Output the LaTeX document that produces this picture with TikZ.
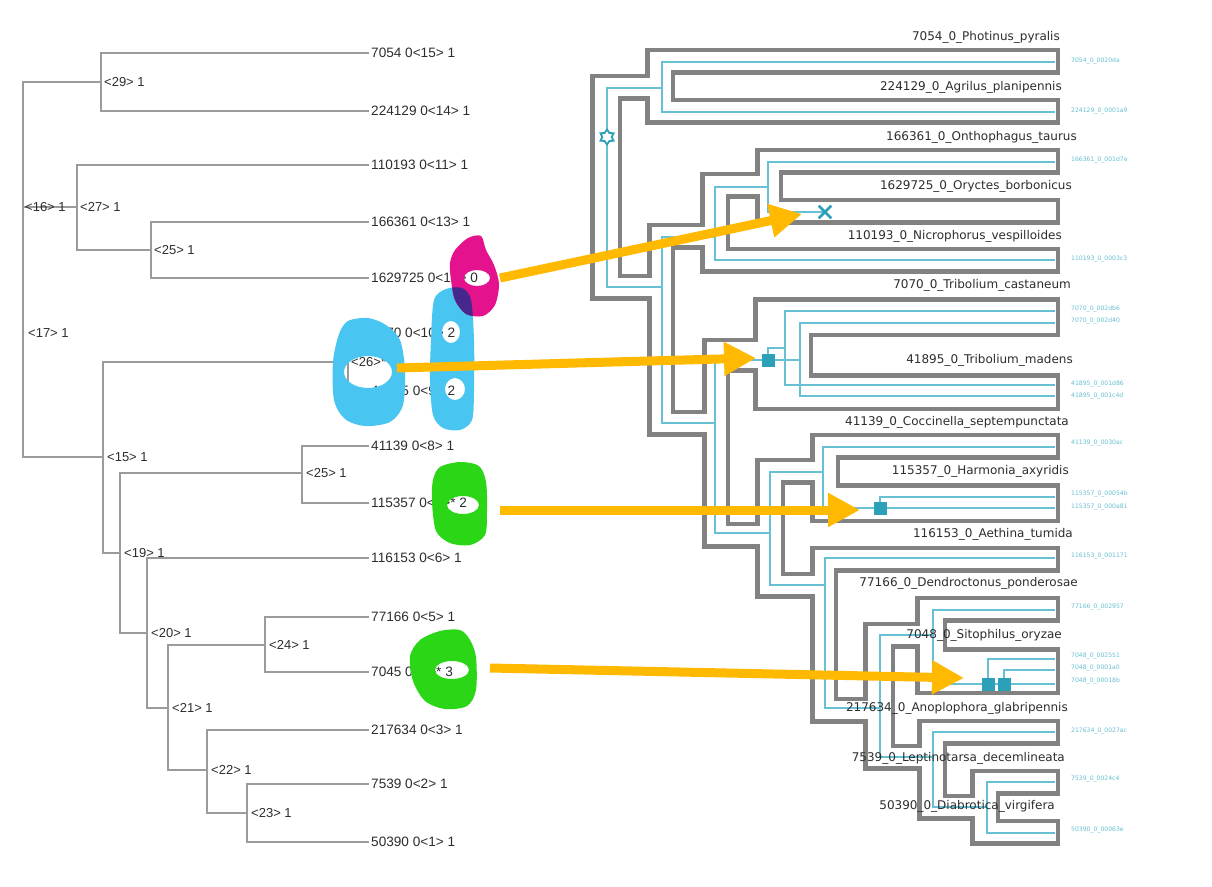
\documentclass[tikz,border=0pt]{standalone}
\usepackage{fontspec}
\setmainfont{Liberation Sans}
\newfontfamily\verafont{DejaVu Sans}
\usetikzlibrary{arrows.meta,shapes.geometric,shapes.misc}
\definecolor{treegray}{RGB}{155,155,155}
\definecolor{labcol}{RGB}{45,45,45}
\definecolor{tubegray}{RGB}{130,130,130}
\definecolor{genecol}{RGB}{104,192,212}
\definecolor{evcol}{RGB}{43,160,184}
\definecolor{arrcol}{RGB}{255,185,0}
\definecolor{pinkblob}{RGB}{228,18,140}
\definecolor{blueblob}{RGB}{72,197,240}
\definecolor{greenblob}{RGB}{42,214,22}
\definecolor{mixblob}{RGB}{70,40,140}

\begin{document}
\begin{tikzpicture}[x=1pt,y=-1pt,
  gtree/.style={treegray,line width=1.6pt},
  leaf/.style={anchor=west,inner sep=0pt,inner xsep=2pt,text=labcol,font=\fontsize{13.6}{14}\selectfont},
  inode/.style={anchor=west,inner sep=0pt,text=labcol,font=\fontsize{13}{13}\selectfont},
  gene/.style={genecol,line width=1.3pt},
  spname/.style={anchor=east,inner sep=0pt,text=labcol,font=\verafont\fontsize{12}{12}\selectfont},
  gname/.style={anchor=west,inner sep=0pt,text=genecol,font=\verafont\fontsize{6.1}{6}\selectfont},
  dupbox/.style={fill=evcol,minimum size=13pt,inner sep=0pt},
  lossmark/.style={cross out,draw=evcol,line width=2.6pt,minimum size=10pt,inner sep=0pt},
  rootmark/.style={star,star points=6,star point ratio=1.6,draw=evcol,fill=white,line width=1.8pt,minimum size=15pt,inner sep=0pt},
  hint/.style={arrcol,line width=9pt,-{Triangle[length=32pt,width=32pt]}}]
\useasboundingbox (0,0) rectangle (1212,886);
\fill[white] (0,0) rectangle (1212,886);

% left tree
\coordinate (n17) at (23,333);
\coordinate (n16) at (23,207);
\coordinate (n29) at (101,82);
\coordinate (n27) at (77,207);
\coordinate (n25a) at (151,250);
\coordinate (n15) at (103,457);
\coordinate (n26) at (348,362);
\coordinate (n19) at (120,553);
\coordinate (n25b) at (302,473);
\coordinate (n20) at (147,633);
\coordinate (n21) at (168,708);
\coordinate (n24) at (265,645);
\coordinate (n22) at (207,770);
\coordinate (n23) at (247,813);

\node[leaf] (l15) at (369,53) {7054 0<15> 1};
\node[leaf] (l14) at (369,111) {224129 0<14> 1};
\node[leaf] (l11) at (369,165) {110193 0<11> 1};
\node[leaf] (l13) at (369,222) {166361 0<13> 1};
\node[leaf] (l12) at (369,278) {1629725 0<12> 0};
\node[leaf] (l10) at (369,333) {7070 0<10> 2};
\node[leaf] (l9) at (369,391) {41595 0<9> 2};
\node[leaf] (l8) at (369,446) {41139 0<8> 1};
\node[leaf] (l7) at (369,503) {115357 0<7>* 2};
\node[leaf] (l6) at (369,558) {116153 0<6> 1};
\node[leaf] (l5) at (369,617) {77166 0<5> 1};
\node[leaf] (l4) at (369,672) {7045 0<4>* 3};
\node[leaf] (l3) at (369,730) {217634 0<3> 1};
\node[leaf] (l2) at (369,784) {7539 0<2> 1};
\node[leaf] (l1) at (369,842) {50390 0<1> 1};

\draw[gtree] (n17) -- (n16);
\draw[gtree] (n17) |- (n15);
\draw[gtree] (n16) |- (n29);
\draw[gtree] (n16) -- (n27);
\draw[gtree] (n29) |- (l15.west);
\draw[gtree] (n29) |- (l14.west);
\draw[gtree] (n27) |- (l11.west);
\draw[gtree] (n27) |- (n25a);
\draw[gtree] (n25a) |- (l13.west);
\draw[gtree] (n25a) |- (l12.west);
\draw[gtree] (n15) |- (n26);
\draw[gtree] (n15) |- (n19);
\draw[gtree] (n26) |- (l10.west);
\draw[gtree] (n26) |- (l9.west);
\draw[gtree] (n19) |- (n25b);
\draw[gtree] (n19) |- (n20);
\draw[gtree] (n25b) |- (l8.west);
\draw[gtree] (n25b) |- (l7.west);
\draw[gtree] (n20) |- (l6.west);
\draw[gtree] (n20) |- (n21);
\draw[gtree] (n21) |- (n24);
\draw[gtree] (n21) |- (n22);
\draw[gtree] (n24) |- (l5.west);
\draw[gtree] (n24) |- (l4.west);
\draw[gtree] (n22) |- (l3.west);
\draw[gtree] (n22) |- (n23);
\draw[gtree] (n23) |- (l2.west);
\draw[gtree] (n23) |- (l1.west);

\node[inode] (t29) at (104,82) {<29> 1};
\node[inode] (t16) at (25,207) {<16> 1};
\node[inode] (t27) at (80,207) {<27> 1};
\node[inode] (t25a) at (154,250) {<25> 1};
\node[inode] (t17) at (28,333) {<17> 1};
\node[inode] (t26) at (351,362) {<26>* 2};
\node[inode] (t15) at (107,457) {<15> 1};
\node[inode] (t25b) at (306,473) {<25> 1};
\node[inode] (t19) at (124,553) {<19> 1};
\node[inode] (t20) at (151,633) {<20> 1};
\node[inode] (t24) at (269,645) {<24> 1};
\node[inode] (t21) at (172,708) {<21> 1};
\node[inode] (t22) at (211,770) {<22> 1};
\node[inode] (t23) at (251,813) {<23> 1};

% species tree tubes: gray, then white inside
\foreach \x/\a/\b/\w in {606/73.5/300.5/32, 660/47.5/124.5/30, 661/222.5/436.5/28,
  715/171.5/273.5/30, 769/147.5/224.5/28, 716/337.5/548.5/28, 783/297/411/60,
  825/432.5/523/30, 770/457.5/598.5/30, 824/545.5/723.5/28, 879/621.5/770.5/32,
  931/595.5/695/32, 932/718.5/820.5/30, 985/768.5/845.5/30}
  \draw[tubegray,line width=\w pt] (\x,\a) -- (\x,\b);
\foreach \a/\y/\b/\w in {606/87/660/27, 660/61/1060/27, 660/111/1060/27, 606/287/661/27,
  661/236/715/27, 715/185/769/27, 769/161/1060/27, 769/211/1060/27, 715/260/1060/27,
  661/423/716/27, 716/355/783/35, 783/317/1060/40, 783/392/1060/38, 716/535/770/27,
  770/471/825/27, 825/446/1060/27, 825/503/1060/40, 770/585/824/27, 824/559/1060/27,
  824/710/879/27, 879/635/931/27, 931/609/1060/27, 931/671/1060/48, 879/757/932/27,
  932/732/1060/27, 932/807/985/27, 985/782/1060/27, 985/832/1060/27}
  \draw[tubegray,line width=\w pt] (\a,\y) -- (\b,\y);
\foreach \x/\a/\b/\w in {606/73.5/300.5/32, 660/47.5/124.5/30, 661/222.5/436.5/28,
  715/171.5/273.5/30, 769/147.5/224.5/28, 716/337.5/548.5/28, 783/297/411/60,
  825/432.5/523/30, 770/457.5/598.5/30, 824/545.5/723.5/28, 879/621.5/770.5/32,
  931/595.5/695/32, 932/718.5/820.5/30, 985/768.5/845.5/30}
  \draw[white,line width={(\w-9)*1pt},shorten <=4.5pt,shorten >=4.5pt] (\x,\a) -- (\x,\b);
\foreach \a/\y/\b/\w in {606/87/660/27, 660/61/1060/27, 660/111/1060/27, 606/287/661/27,
  661/236/715/27, 715/185/769/27, 769/161/1060/27, 769/211/1060/27, 715/260/1060/27,
  661/423/716/27, 716/355/783/35, 783/317/1060/40, 783/392/1060/38, 716/535/770/27,
  770/471/825/27, 825/446/1060/27, 825/503/1060/40, 770/585/824/27, 824/559/1060/27,
  824/710/879/27, 879/635/931/27, 931/609/1060/27, 931/671/1060/48, 879/757/932/27,
  932/732/1060/27, 932/807/985/27, 985/782/1060/27, 985/832/1060/27}
  \draw[white,line width={(\w-9)*1pt},shorten <=4.5pt,shorten >=4.5pt] (\a,\y) -- (\b,\y);

% gene tree
\coordinate (g0) at (607,137);
\coordinate (gA) at (662,88);
\coordinate (gB) at (662,287);
\coordinate (gC) at (715,237);
\coordinate (gD) at (768,187);
\coordinate (lossOr) at (825,212);
\coordinate (gE) at (715,423);
\coordinate (d1) at (768,360);
\coordinate (ga) at (785,348);
\coordinate (gb) at (800,360);
\coordinate (gH) at (770,533);
\coordinate (gG) at (823,472);
\coordinate (d2) at (880,508);
\coordinate (gJ) at (825,585);
\coordinate (gL) at (880,708);
\coordinate (gN) at (933,635);
\coordinate (d3) at (988,684);
\coordinate (d4) at (1004,684);
\coordinate (gM) at (933,757);
\coordinate (gO) at (987,807);
\foreach \n/\y in {eP/62, eAg/112, eOn/162, eNi/260, eTcA/311, eTcB/323, eTmA/385, eTmB/396,
  eCo/447, eHaA/497, eHaB/508, eAe/558, eDe/610, eSiA/659, eSiB/670, eSiC/684,
  eAn/732, eLe/782, eDi/833}
  \coordinate (\n) at (1055,\y);

\draw[gene] (g0) |- (gA);
\draw[gene] (g0) |- (gB);
\draw[gene] (gA) |- (eP);
\draw[gene] (gA) |- (eAg);
\draw[gene] (gB) |- (gC);
\draw[gene] (gB) |- (gE);
\draw[gene] (gC) |- (gD);
\draw[gene] (gC) |- (eNi);
\draw[gene] (gD) |- (eOn);
\draw[gene] (gD) |- (lossOr);
\draw[gene] (gE) |- (d1);
\draw[gene] (gE) |- (gH);
\draw[gene] (d1) |- (ga);
\draw[gene] (d1) -- (gb);
\draw[gene] (ga) |- (eTcA);
\draw[gene] (ga) |- (eTmA);
\draw[gene] (gb) |- (eTcB);
\draw[gene] (gb) |- (eTmB);
\draw[gene] (gH) |- (gG);
\draw[gene] (gH) |- (gJ);
\draw[gene] (gG) |- (eCo);
\draw[gene] (gG) |- (d2);
\draw[gene] (d2) |- (eHaA);
\draw[gene] (d2) -- (eHaB);
\draw[gene] (gJ) |- (eAe);
\draw[gene] (gJ) |- (gL);
\draw[gene] (gL) |- (gN);
\draw[gene] (gL) |- (gM);
\draw[gene] (gN) |- (eDe);
\draw[gene] (gN) |- (d3);
\draw[gene] (d3) -- (d4);
\draw[gene] (d4) -- (eSiC);
\draw[gene] (d3) |- (eSiA);
\draw[gene] (d4) |- (eSiB);
\draw[gene] (gM) |- (eAn);
\draw[gene] (gM) |- (gO);
\draw[gene] (gO) |- (eLe);
\draw[gene] (gO) |- (eDi);

\node[rootmark] (rootev) at (g0) {};
\node[lossmark] (xOr) at (lossOr) {};
\node[dupbox] (dupTc) at (d1) {};
\node[dupbox] (dupHa) at (d2) {};
\node[dupbox] (dupSiA) at (d3) {};
\node[dupbox] (dupSiB) at (d4) {};

% species and gene names
\node[spname] (sP) at (1060,37) {7054\_0\_Photinus\_pyralis};
\node[spname] (sAg) at (1062,87) {224129\_0\_Agrilus\_planipennis};
\node[spname] (sOn) at (1077,137) {166361\_0\_Onthophagus\_taurus};
\node[spname] (sOr) at (1072,186) {1629725\_0\_Oryctes\_borbonicus};
\node[spname] (sNi) at (1062,236) {110193\_0\_Nicrophorus\_vespilloides};
\node[spname] (sTc) at (1071,285) {7070\_0\_Tribolium\_castaneum};
\node[spname] (sTm) at (1073,360) {41895\_0\_Tribolium\_madens};
\node[spname] (sCo) at (1069,422) {41139\_0\_Coccinella\_septempunctata};
\node[spname] (sHa) at (1069,471) {115357\_0\_Harmonia\_axyridis};
\node[spname] (sAe) at (1073,534) {116153\_0\_Aethina\_tumida};
\node[spname] (sDe) at (1078,583) {77166\_0\_Dendroctonus\_ponderosae};
\node[spname] (sSi) at (1062,635) {7048\_0\_Sitophilus\_oryzae};
\node[spname] (sAn) at (1068,708) {217634\_0\_Anoplophora\_glabripennis};
\node[spname] (sLe) at (1065,758) {7539\_0\_Leptinotarsa\_decemlineata};
\node[spname] (sDi) at (1055,806) {50390\_0\_Diabrotica\_virgifera};

\node[gname] (nP) at (1071,61) {7054\_0\_0020da};
\node[gname] (nAg) at (1071,111) {224129\_0\_0001a9};
\node[gname] (nOn) at (1071,160) {166361\_0\_001d7e};
\node[gname] (nNi) at (1071,259) {110193\_0\_0003c3};
\node[gname] (nTcA) at (1071,309) {7070\_0\_002db6};
\node[gname] (nTcB) at (1071,321) {7070\_0\_002d40};
\node[gname] (nTmA) at (1071,384) {41895\_0\_001d86};
\node[gname] (nTmB) at (1071,396) {41895\_0\_001c4d};
\node[gname] (nCo) at (1071,443) {41139\_0\_0030ac};
\node[gname] (nHaA) at (1071,494) {115357\_0\_00054b};
\node[gname] (nHaB) at (1071,507) {115357\_0\_000a81};
\node[gname] (nAe) at (1071,556) {116153\_0\_001171};
\node[gname] (nDe) at (1071,607) {77166\_0\_002957};
\node[gname] (nSiA) at (1071,656) {7048\_0\_002551};
\node[gname] (nSiB) at (1071,668) {7048\_0\_0001a0};
\node[gname] (nSiC) at (1071,681) {7048\_0\_00018b};
\node[gname] (nAn) at (1071,731) {217634\_0\_0027ac};
\node[gname] (nLe) at (1071,779) {7539\_0\_0024c4};
\node[gname] (nDi) at (1071,830) {50390\_0\_00063e};

% hand-drawn marks
\fill[blueblob,even odd rule] plot[smooth cycle] coordinates {(348,321) (368,318) (386,325) (400,340) (405,370) (403,405) (390,422) (365,426) (345,419) (334,400) (333,362) (339,334)}
  (368,372) ellipse [x radius=24pt,y radius=16pt];
\fill[blueblob,even odd rule] plot[smooth cycle] coordinates {(434,300) (446,289) (462,288) (471,300) (474,340) (474,390) (472,420) (460,430) (443,428) (433,415) (430,380) (431,340)}
  (451,332) ellipse [x radius=9pt,y radius=11pt] (455,389) ellipse [x radius=10pt,y radius=11pt];
\fill[pinkblob,even odd rule] plot[smooth cycle] coordinates {(455,250) (468,238) (481,236) (486,250) (494,265) (499,284) (495,305) (483,316) (466,314) (455,300) (451,280) (450,263)}
  (477,278) ellipse [x radius=13pt,y radius=8pt];
\begin{scope}
  \clip plot[smooth cycle] coordinates {(434,300) (446,289) (462,288) (471,300) (474,340) (474,390) (472,420) (460,430) (443,428) (433,415) (430,380) (431,340)};
  \fill[mixblob] plot[smooth cycle] coordinates {(455,250) (468,238) (481,236) (486,250) (494,265) (499,284) (495,305) (483,316) (466,314) (455,300) (451,280) (450,263)};
\end{scope}
\fill[greenblob,even odd rule] plot[smooth cycle] coordinates {(440,467) (460,462) (479,466) (486,482) (487,510) (485,535) (470,545) (450,543) (436,531) (432,502) (433,480)}
  (463,505) ellipse [x radius=16pt,y radius=9pt];
\fill[greenblob,even odd rule] plot[smooth cycle] coordinates {(420,640) (440,631) (460,630) (470,640) (476,657) (476,690) (467,706) (445,709) (425,701) (413,681) (410,656)}
  (452,670) ellipse [x radius=17pt,y radius=9pt];

\coordinate (fromOr) at (500,278);
\coordinate (toOr) at (802,214);
\coordinate (fromTc) at (397,368);
\coordinate (toTc) at (756,358);
\coordinate (fromHa) at (500,510);
\coordinate (toHa) at (860,510);
\coordinate (fromSi) at (490,668);
\coordinate (toSi) at (964,678);
\draw[hint] (fromOr) -- (toOr);
\draw[hint] (fromTc) -- (toTc);
\draw[hint] (fromHa) -- (toHa);
\draw[hint] (fromSi) -- (toSi);
\end{tikzpicture}
\end{document}
